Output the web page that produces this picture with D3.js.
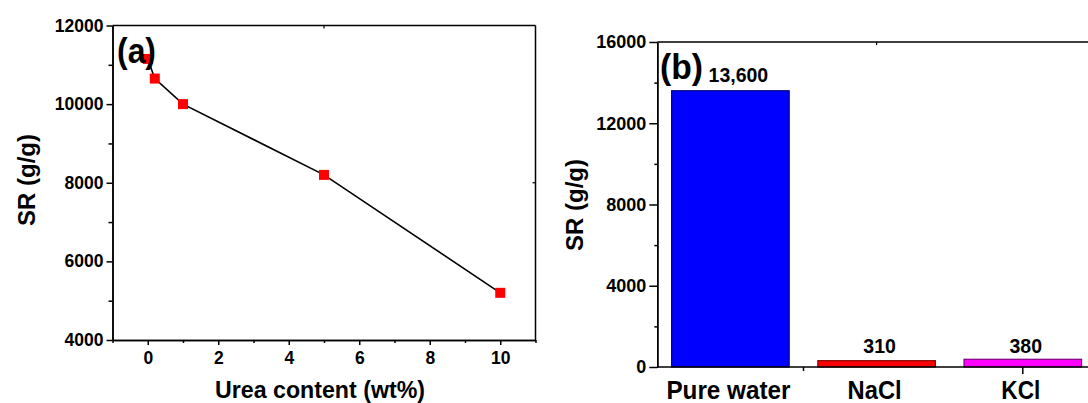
<!DOCTYPE html>
<html>
<head>
<meta charset="utf-8">
<script src="https://cdn.jsdelivr.net/npm/d3@7"></script>
<style>
  body { margin: 0; background: #fff; }
  svg { display: block; }
  text { font-family: "Liberation Sans", Arial, sans-serif; font-weight: bold; fill: #000; }
  .axis path, .axis line { stroke: #000; stroke-width: 1.5; }
</style>
</head>
<body>
<svg id="chart" width="1088" height="403"></svg>
<script>
// panel (a): SR vs urea content
var ureaContent = [0, 0.2, 1, 5, 10];
var srUrea = [11150, 10650, 10000, 8200, 5200];
var xTicksA = [0, 2, 4, 6, 8, 10];
var xMinorA = [-1, 1, 3, 5, 7, 9, 11];
var yTicksA = [4000, 6000, 8000, 10000, 12000];
var yMinorA = [5000, 7000, 9000, 11000];

// panel (b): SR in different media
var media = ["Pure water", "NaCl", "KCl"];
var srMedia = [13600, 310, 380];
var srLabels = ["13,600", "310", "380"];
var barFill = ["#0000ff", "#ff0000", "#ff00ff"];
var barStroke = ["#000080", "#800000", "#800080"];
var catWidth = [124, 54, 39]; // squeezed label widths, like the original export
var yTicksB = [0, 4000, 8000, 12000, 16000];
var yMinorB = [2000, 6000, 10000, 14000];

var svg = d3.select("#chart");

//---------------- panel (a) ----------------
var xa = d3.scaleLinear().domain([-1, 11]).range([112.5, 535.5]);
var ya = d3.scaleLinear().domain([4000, 12000]).range([340, 25.5]);

var ga = svg.append("g");

// frame top + right
ga.append("line").attr("x1", xa(-1)).attr("x2", xa(11)).attr("y1", ya(12000)).attr("y2", ya(12000))
    .attr("stroke", "#000").attr("stroke-width", 1.5);
ga.append("line").attr("x1", xa(11)).attr("x2", xa(11)).attr("y1", ya(12000)).attr("y2", ya(4000))
    .attr("stroke", "#000").attr("stroke-width", 1.5);
ga.append("line").attr("x1", xa(5)).attr("x2", xa(5)).attr("y1", ya(12000)).attr("y2", ya(12000) + 3)
    .attr("stroke", "#000").attr("stroke-width", 1.2);
ga.append("line").attr("x1", xa(11)).attr("x2", xa(11) - 3).attr("y1", ya(8000)).attr("y2", ya(8000))
    .attr("stroke", "#000").attr("stroke-width", 1.2);

ga.append("g").attr("class", "axis")
    .attr("transform", "translate(0," + ya(4000) + ")")
    .call(d3.axisBottom(xa).tickValues(xMinorA).tickSize(3).tickFormat("").tickSizeOuter(0));
var axA = ga.append("g").attr("class", "axis")
    .attr("transform", "translate(0," + ya(4000) + ")")
    .call(d3.axisBottom(xa).tickValues(xTicksA).tickSize(5).tickPadding(7).tickSizeOuter(0));
axA.selectAll("text").style("font-size", "17.5px");

ga.append("g").attr("class", "axis")
    .attr("transform", "translate(" + xa(-1) + ",0)")
    .call(d3.axisLeft(ya).tickValues(yMinorA).tickSize(4).tickFormat("").tickSizeOuter(0));
var ayA = ga.append("g").attr("class", "axis")
    .attr("transform", "translate(" + xa(-1) + ",0)")
    .call(d3.axisLeft(ya).tickValues(yTicksA).tickSize(6).tickPadding(3).tickFormat(d3.format("d")).tickSizeOuter(0));
ayA.selectAll("text").style("font-size", "17.5px");

var pts = ureaContent.map(function(d, i) { return {x: d, y: srUrea[i]}; });
var line = d3.line()
    .x(function(d) { return xa(d.x); })
    .y(function(d) { return ya(d.y); });

ga.append("path").datum(pts)
    .attr("d", line)
    .attr("fill", "none")
    .attr("stroke", "#000")
    .attr("stroke-width", 1.6);

ga.selectAll("rect.pt").data(pts).enter().append("rect")
    .attr("class", "pt")
    .attr("x", function(d) { return xa(d.x) - 5; })
    .attr("y", function(d) { return ya(d.y) - 5; })
    .attr("width", 10).attr("height", 10)
    .attr("fill", "#ff0000");

ga.append("text").attr("x", 117).attr("y", 62.5)
    .attr("textLength", 39).attr("lengthAdjust", "spacingAndGlyphs")
    .style("font-size", "35px").text("(a)");

ga.append("text").attr("x", 320).attr("y", 398)
    .attr("text-anchor", "middle")
    .attr("textLength", 210).attr("lengthAdjust", "spacingAndGlyphs")
    .style("font-size", "24px").text("Urea content (wt%)");

ga.append("text").attr("transform", "translate(35,180) rotate(-90)")
    .attr("text-anchor", "middle")
    .style("font-size", "24px").text("SR (g/g)");

//---------------- panel (b) ----------------
var xb = d3.scaleBand().domain(media).range([657.3, 1095.9]).padding(0);
var yb = d3.scaleLinear().domain([0, 16000]).range([367, 42]);
var barW = xb.bandwidth() * 0.804;

var gb = svg.append("g");

gb.append("line").attr("x1", 657.3).attr("x2", 1095.9).attr("y1", yb(16000)).attr("y2", yb(16000))
    .attr("stroke", "#000").attr("stroke-width", 1.5);
gb.append("line").attr("x1", xb("NaCl") + xb.bandwidth() / 2).attr("x2", xb("NaCl") + xb.bandwidth() / 2)
    .attr("y1", yb(16000)).attr("y2", yb(16000) + 3)
    .attr("stroke", "#000").attr("stroke-width", 1.2);

gb.selectAll("rect.bar").data(media).enter().append("rect")
    .attr("class", "bar")
    .attr("x", function(d) { return xb(d) + (xb.bandwidth() - barW) / 2; })
    .attr("y", function(d, i) { return yb(srMedia[i]); })
    .attr("width", barW)
    .attr("height", function(d, i) { return yb(0) - yb(srMedia[i]); })
    .attr("fill", function(d, i) { return barFill[i]; })
    .attr("stroke", function(d, i) { return barStroke[i]; })
    .attr("stroke-width", 1.2);

// bottom axis with the odd ticks seen in the original
var bx = gb.append("g").attr("class", "axis")
    .attr("transform", "translate(0," + yb(0) + ")");
bx.append("line").attr("x1", 657.3).attr("x2", 1095.9).attr("y1", 0).attr("y2", 0);
bx.append("line").attr("x1", xb("NaCl")).attr("x2", xb("NaCl")).attr("y1", 0).attr("y2", 4);
bx.append("line").attr("x1", xb("KCl") + xb.bandwidth() / 2).attr("x2", xb("KCl") + xb.bandwidth() / 2).attr("y1", 0).attr("y2", 7);
bx.selectAll("text.cat").data(media).enter().append("text")
    .attr("class", "cat")
    .attr("x", function(d) { return xb(d) + xb.bandwidth() / 2 - 2; })
    .attr("y", 32)
    .attr("text-anchor", "middle")
    .attr("textLength", function(d, i) { return catWidth[i]; })
    .attr("lengthAdjust", "spacingAndGlyphs")
    .style("font-size", "25px")
    .text(function(d) { return d; });

gb.append("g").attr("class", "axis")
    .attr("transform", "translate(657.3,0)")
    .call(d3.axisLeft(yb).tickValues(yMinorB).tickSize(3).tickFormat("").tickSizeOuter(0));
var ayB = gb.append("g").attr("class", "axis")
    .attr("transform", "translate(657.3,0)")
    .call(d3.axisLeft(yb).tickValues(yTicksB).tickSize(8).tickPadding(3).tickFormat(d3.format("d")).tickSizeOuter(0));
ayB.selectAll("text").style("font-size", "18px");

gb.selectAll("text.val").data(media).enter().append("text")
    .attr("class", "val")
    .attr("x", function(d, i) { return xb(d) + xb.bandwidth() / 2 + (i == 0 ? 8 : 3); })
    .attr("y", function(d, i) { return i == 0 ? yb(srMedia[i]) - 9 : 353; })
    .attr("text-anchor", "middle")
    .style("font-size", "19.5px")
    .text(function(d, i) { return srLabels[i]; });

gb.append("text").attr("x", 660).attr("y", 79)
    .attr("textLength", 43).attr("lengthAdjust", "spacingAndGlyphs")
    .style("font-size", "35px").text("(b)");

gb.append("text").attr("transform", "translate(583,205) rotate(-90)")
    .attr("text-anchor", "middle")
    .style("font-size", "24px").text("SR (g/g)");
</script>
</body>
</html>
